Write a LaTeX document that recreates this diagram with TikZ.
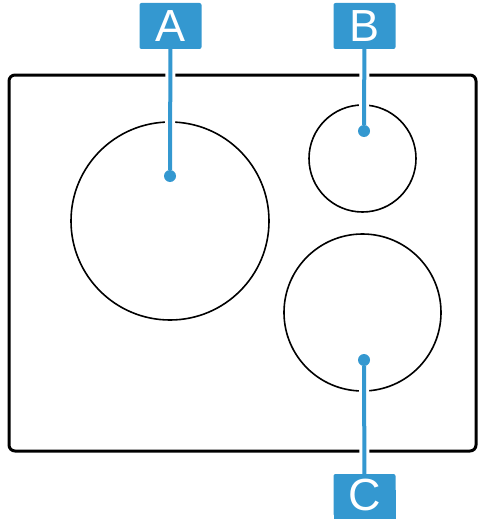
\documentclass[tikz,border=0pt]{standalone}
\usepackage{fontspec}
\setmainfont{Liberation Sans}
\definecolor{lblue}{RGB}{52,152,208}
\begin{document}
\begin{tikzpicture}[x=1pt,y=-1pt,
  frame/.style={draw=black,line width=3pt,rounded corners=6pt},
  hob/.style={draw=black,line width=1.6pt,circle,inner sep=0pt},
  tag/.style={fill=lblue,text=white,rounded corners=2pt,minimum width=62pt,minimum height=46pt,inner sep=0pt,font=\fontsize{45}{45}\selectfont},
  lead/.style={draw=lblue,line width=4pt},
  halo/.style={draw=white,line width=10pt},
  dot/.style={circle,fill=lblue,minimum size=12pt,inner sep=0pt}]
\useasboundingbox (0,0) rectangle (482,519);
\draw[frame] (9,75) rectangle (476,451);
\node[hob,minimum size=198pt] (ca) at (170,221) {};
\node[hob,minimum size=107pt] (cb) at (362.5,158.5) {};
\node[hob,minimum size=157pt] (cc) at (362.5,312.5) {};
\node[dot] (da) at (170,176) {};
\node[dot] (db) at (364,131) {};
\node[dot] (dc) at (364,360) {};
\node[tag] (ta) at (170.5,26) {A};
\node[tag] (tb) at (364.5,26) {B};
\fill[lblue] (333.5,490) rectangle (395.5,520);
\node[tag,minimum height=42pt] (tc) at (364.5,495) {C};
\foreach \t/\d in {ta/da,tb/db,tc/dc}{
  \draw[halo] (\t) -- (\d);
  \draw[lead] (\t) -- (\d);
}
\end{tikzpicture}
\end{document}
